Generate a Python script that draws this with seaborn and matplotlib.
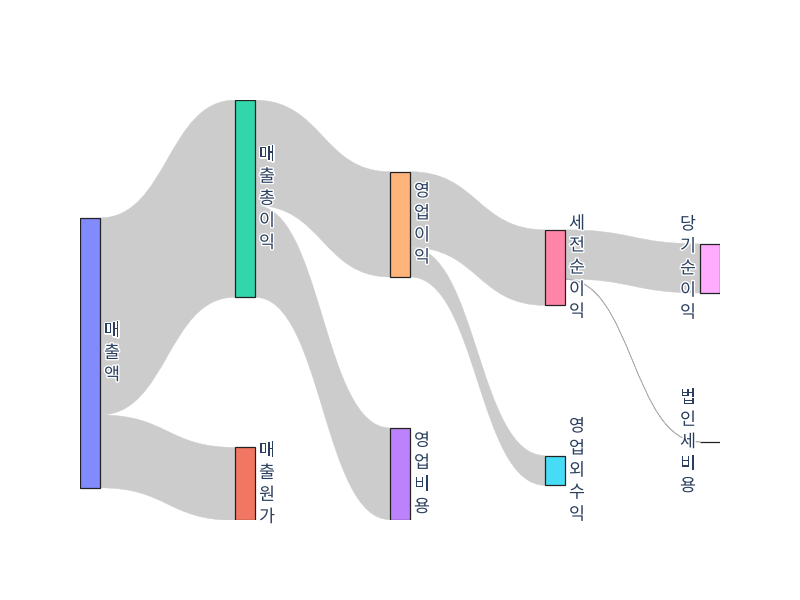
import matplotlib
matplotlib.use('Agg')
import matplotlib.pyplot as plt
import seaborn as sns
from matplotlib.path import Path
from matplotlib.patches import PathPatch, Rectangle
import matplotlib.patheffects as pe

# ---- data ----
labels = ['매출액', '매출원가', '매출총이익', '영업비용', '영업이익',
          '영업외수익', '세전순이익', '법인세비용', '당기순이익']
link_source = [0, 0, 2, 2, 4, 4, 6, 6]
link_target = [2, 1, 4, 3, 6, 5, 8, 7]
link_value = [73, 27, 39, 34, 28, 11, 18.2, 0.2]

# ---- styling / layout ----
node_colors = ['#828bfb', '#f27762', '#33d6ab', '#bc82fb', '#ffb47b',
               '#47dcf5', '#ff85a8', '#c5ed99', '#ffacff']
node_column = [0, 1, 1, 2, 2, 3, 3, 4, 4]
node_center = [0.602, 0.914, 0.235, 0.890, 0.296, 0.882, 0.399, 0.814, 0.401]
W_PX, H_PX = 640, 420          # plot area (pixels)
NODE_W, PAD = 20, 150
LINK_COLOR = '#cccccc'
TEXT_COLOR = '#2a3f5f'

sns.set_theme(style='white')
plt.rcParams['font.family'] = ['Noto Sans CJK KR', 'DejaVu Sans']

fig = plt.figure(figsize=(8, 6), dpi=100)
fig.patch.set_facecolor('white')
ax = fig.add_axes([80 / 800, 80 / 600, W_PX / 800, H_PX / 600])
ax.set_xlim(0, W_PX)
ax.set_ylim(H_PX, 0)
ax.set_axis_off()

n = len(labels)
inflow = [0.0] * n
outflow = [0.0] * n
for s, t, v in zip(link_source, link_target, link_value):
    outflow[s] += v
    inflow[t] += v
node_val = [max(a, b) for a, b in zip(inflow, outflow)]

ncols = max(node_column) + 1
ky = min((H_PX - (sum(1 for c in node_column if c == col) - 1) * PAD) /
         sum(node_val[i] for i in range(n) if node_column[i] == col)
         for col in range(ncols))

col_step = (W_PX - NODE_W) / (ncols - 1)
node_x = [c * col_step for c in node_column]
node_h = [v * ky for v in node_val]
node_top = [node_center[i] * H_PX - node_h[i] / 2 for i in range(n)]
centers = [node_top[i] + node_h[i] / 2 for i in range(n)]

# link stacking
src_off = list(node_top)
tgt_off = list(node_top)
links = list(range(len(link_value)))
src_pos = {}
tgt_pos = {}
for i in range(n):
    outs = sorted([k for k in links if link_source[k] == i], key=lambda k: centers[link_target[k]])
    for k in outs:
        src_pos[k] = src_off[i]
        src_off[i] += link_value[k] * ky
    ins = sorted([k for k in links if link_target[k] == i], key=lambda k: centers[link_source[k]])
    for k in ins:
        tgt_pos[k] = tgt_off[i]
        tgt_off[i] += link_value[k] * ky

for k in links:
    s, t = link_source[k], link_target[k]
    h = link_value[k] * ky
    x0 = node_x[s] + NODE_W
    x1 = node_x[t]
    xm = (x0 + x1) / 2
    y0, y1 = src_pos[k], tgt_pos[k]
    verts = [(x0, y0), (xm, y0), (xm, y1), (x1, y1),
             (x1, y1 + h), (xm, y1 + h), (xm, y0 + h), (x0, y0 + h), (x0, y0)]
    codes = [Path.MOVETO, Path.CURVE4, Path.CURVE4, Path.CURVE4,
             Path.LINETO, Path.CURVE4, Path.CURVE4, Path.CURVE4, Path.CLOSEPOLY]
    thin = h < 1.5
    ax.add_patch(PathPatch(Path(verts, codes), facecolor=LINK_COLOR,
                           edgecolor='#b0b0b0' if thin else LINK_COLOR,
                           linewidth=0.5 if thin else 0.3, zorder=1))

for i in range(n):
    ax.add_patch(Rectangle((node_x[i], node_top[i]), NODE_W, node_h[i],
                           facecolor=node_colors[i], edgecolor='#222222',
                           linewidth=0.9, zorder=2))
    last = node_column[i] == ncols - 1
    tx = node_x[i] - 4 if last else node_x[i] + NODE_W + 4
    ax.text(tx, centers[i], '\n'.join(labels[i]), ha='right' if last else 'left',
            va='center', fontsize=12.5, color=TEXT_COLOR, linespacing=1.29,
            zorder=3, path_effects=[pe.withStroke(linewidth=2, foreground='white')])

fig.savefig('out.png', dpi=100, facecolor='white')
